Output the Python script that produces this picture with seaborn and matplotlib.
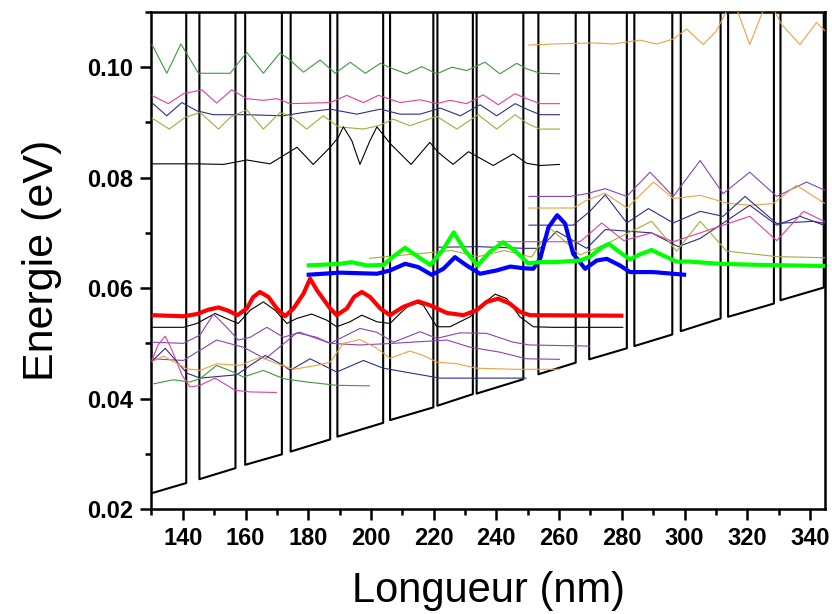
import matplotlib
matplotlib.use("Agg")
import matplotlib.pyplot as plt
import seaborn as sns
from matplotlib.ticker import MultipleLocator, FormatStrFormatter

# conduction band profile: well edges (nm) and well-bottom energies (eV)
well_left = [128.5, 145.3, 159.9, 174.4, 189.3, 206.1, 221.2, 233.7, 253.4, 269.6, 284.0, 298.8, 313.9, 330.6]
well_right = [141.1, 156.8, 171.6, 187.0, 203.9, 219.9, 232.5, 248.6, 265.3, 281.6, 296.1, 311.5, 328.5, 344.4]
bottom_left = [0.0226, 0.0254, 0.0280, 0.0304, 0.0331, 0.0361, 0.0387, 0.0409, 0.0444, 0.0471, 0.0495, 0.0522, 0.0548, 0.0578]
bottom_right = [0.0247, 0.0274, 0.0299, 0.0326, 0.0356, 0.0384, 0.0408, 0.0435, 0.0465, 0.0491, 0.0516, 0.0545, 0.0572, 0.0601]
barrier_top = 0.20

# highlighted states
red_x = [130.1, 140.2, 144.5, 148.2, 151.4, 154.5, 157.4, 160.4, 162.5, 164.6, 167.3, 170.0, 172.6, 175.3, 178.5, 180.6, 182.8, 185.1, 187.0, 189.1, 192.3, 194.6, 197.1, 199.7, 203.0, 206.1, 210.3, 215.1, 218.8, 224.2, 229.5, 233.7, 236.9, 240.6, 244.3, 247.5, 250.7, 280.5]
red_e = [0.0551, 0.0549, 0.0553, 0.0561, 0.0565, 0.0559, 0.0551, 0.0563, 0.0584, 0.0593, 0.0584, 0.0563, 0.0549, 0.0563, 0.0590, 0.0617, 0.0596, 0.0578, 0.0563, 0.0551, 0.0563, 0.0584, 0.0593, 0.0584, 0.0563, 0.0551, 0.0566, 0.0576, 0.0569, 0.0555, 0.0551, 0.0560, 0.0575, 0.0581, 0.0572, 0.0557, 0.0551, 0.0550]

blue_x = [179.5, 190.2, 201.9, 206.1, 210.9, 215.1, 219.4, 223.1, 226.8, 230.5, 234.8, 240.1, 244.4, 248.6, 251.8, 254.0, 256.6, 259.4, 261.9, 264.5, 268.3, 272.0, 275.2, 279.4, 282.6, 290.0, 300.5]
blue_e = [0.0624, 0.0628, 0.0626, 0.0632, 0.0644, 0.0638, 0.0624, 0.0635, 0.0656, 0.0641, 0.0626, 0.0632, 0.0639, 0.0636, 0.0635, 0.0654, 0.0710, 0.0732, 0.0717, 0.0662, 0.0635, 0.0650, 0.0653, 0.0641, 0.0629, 0.0629, 0.0624]

lime_x = [179.5, 190.2, 193.9, 198.7, 204.0, 207.1, 210.9, 214.7, 218.9, 222.8, 226.4, 230.0, 234.0, 238.0, 242.1, 246.3, 250.1, 253.9, 258.7, 266.7, 269.9, 273.4, 275.9, 279.1, 282.6, 285.8, 289.5, 293.2, 297.5, 301.7, 311.3, 324.0, 344.8]
lime_e = [0.0641, 0.0644, 0.0647, 0.0641, 0.0642, 0.0657, 0.0673, 0.0658, 0.0642, 0.0668, 0.0701, 0.0668, 0.0641, 0.0666, 0.0683, 0.0666, 0.0645, 0.0647, 0.0647, 0.0650, 0.0657, 0.0673, 0.0680, 0.0666, 0.0652, 0.0661, 0.0669, 0.0659, 0.0648, 0.0648, 0.0644, 0.0642, 0.0640]

# upper-left group
g1_x = [130.1, 134.9, 139.4, 145.0, 155.1, 160.4, 165.7, 171.0, 174.2, 178.5, 183.8, 188.6, 193.4, 198.2, 203.0, 207.1, 211.4, 216.2, 221.0, 225.8, 230.5, 236.4, 241.1, 246.5, 249.7, 253.9, 260.3]
g1_e = [0.1042, 0.0989, 0.1042, 0.0989, 0.0989, 0.1027, 0.0989, 0.1026, 0.1013, 0.0991, 0.1013, 0.0989, 0.1009, 0.0989, 0.1007, 0.0997, 0.0988, 0.1001, 0.0988, 0.1000, 0.0994, 0.1009, 0.0988, 0.1007, 0.0997, 0.0989, 0.0988]

p1_x = [130.1, 135.4, 140.2, 146.1, 150.8, 155.6, 160.4, 165.7, 170.0, 174.2, 187.0, 192.3, 197.6, 202.4, 209.3, 215.7, 221.0, 225.2, 230.5, 235.8, 240.6, 245.9, 249.7, 253.9, 260.3]
p1_e = [0.0949, 0.0934, 0.0952, 0.0959, 0.0935, 0.0959, 0.0943, 0.0940, 0.0943, 0.0934, 0.0936, 0.0949, 0.0936, 0.0949, 0.0936, 0.0941, 0.0934, 0.0940, 0.0934, 0.0950, 0.0932, 0.0952, 0.0943, 0.0934, 0.0934]

n1_x = [130.1, 134.9, 139.7, 144.5, 149.8, 160.4, 172.1, 178.5, 187.0, 195.5, 203.0, 209.3, 215.7, 222.1, 228.5, 234.8, 240.1, 246.0, 249.7, 253.9, 260.3]
n1_e = [0.0936, 0.0912, 0.0936, 0.0921, 0.0914, 0.0914, 0.0912, 0.0918, 0.0924, 0.0915, 0.0924, 0.0915, 0.0915, 0.0926, 0.0912, 0.0932, 0.0912, 0.0934, 0.0924, 0.0914, 0.0914]

o1_x = [130.1, 135.7, 140.7, 145.5, 151.4, 155.1, 160.4, 165.7, 171.0, 174.2, 179.5, 184.8, 189.6, 197.6, 202.4, 207.1, 212.4, 221.0, 227.4, 234.2, 240.1, 246.0, 250.2, 253.9, 260.3]
o1_e = [0.0908, 0.0888, 0.0909, 0.0918, 0.0888, 0.0909, 0.0923, 0.0888, 0.0918, 0.0912, 0.0888, 0.0912, 0.0892, 0.0888, 0.0894, 0.0906, 0.0894, 0.0911, 0.0888, 0.0914, 0.0888, 0.0914, 0.0897, 0.0888, 0.0888]

k1_x = [130.1, 144.5, 153.0, 160.4, 167.8, 176.4, 181.6, 187.0, 189.6, 191.2, 193.9, 196.5, 199.7, 201.9, 206.1, 212.8, 218.8, 221.4, 226.2, 231.1, 239.0, 245.4, 249.7, 253.9, 260.3]
k1_e = [0.0825, 0.0825, 0.0824, 0.0832, 0.0825, 0.0855, 0.0824, 0.0855, 0.0873, 0.0892, 0.0867, 0.0824, 0.0867, 0.0892, 0.0862, 0.0824, 0.0864, 0.0846, 0.0824, 0.0847, 0.0822, 0.0843, 0.0826, 0.0822, 0.0824]

# top right
or1_x = [250.2, 258.1, 270.9, 277.3, 285.8, 291.1, 296.4, 300.7, 306.0, 310.2, 315.4, 320.8, 326.6, 330.9, 336.8, 342.1, 345.3]
or1_e = [0.1040, 0.1042, 0.1044, 0.1042, 0.1049, 0.1042, 0.1051, 0.1069, 0.1041, 0.1066, 0.1125, 0.1041, 0.1125, 0.1078, 0.1041, 0.1081, 0.1063]

# right group
pu1_x = [250.2, 263.5, 268.8, 274.7, 281.6, 289.0, 296.4, 305.0, 312.3, 320.8, 329.4, 338.9, 344.8]
pu1_e = [0.0766, 0.0766, 0.0771, 0.0780, 0.0766, 0.0810, 0.0766, 0.0831, 0.0771, 0.0810, 0.0766, 0.0792, 0.0777]

or2_x = [250.2, 264.5, 268.8, 274.7, 281.6, 290.1, 296.4, 305.0, 313.4, 320.8, 328.2, 335.7, 344.8]
or2_e = [0.0745, 0.0745, 0.0759, 0.0772, 0.0745, 0.0792, 0.0762, 0.0768, 0.0754, 0.0750, 0.0753, 0.0786, 0.0753]

n2_x = [250.2, 264.5, 269.8, 274.7, 281.6, 288.5, 296.4, 305.0, 312.3, 319.3, 329.4, 341.1, 344.8]
n2_e = [0.0714, 0.0714, 0.0739, 0.0769, 0.0718, 0.0744, 0.0718, 0.0739, 0.0730, 0.0766, 0.0717, 0.0721, 0.0717]

n3_x = [220.9, 234.2, 249.1, 253.9, 259.2, 268.8, 274.7, 289.5, 298.0, 305.0, 320.8, 329.4, 336.8, 344.4]
n3_e = [0.0674, 0.0675, 0.0672, 0.0672, 0.0703, 0.0672, 0.0706, 0.0700, 0.0675, 0.0690, 0.0750, 0.0714, 0.0730, 0.0714]

pk3_x = [240.1, 253.9, 266.7, 273.6, 280.6, 289.5, 296.4, 305.0, 320.8, 329.4, 338.0, 344.8]
pk3_e = [0.0684, 0.0684, 0.0684, 0.0718, 0.0686, 0.0700, 0.0684, 0.0700, 0.0730, 0.0686, 0.0739, 0.0720]

ol3_x = [199.4, 225.8, 234.2, 242.6, 251.2, 257.2, 266.7, 275.0, 289.5, 297.5, 305.0, 313.4, 329.4, 344.8]
ol3_e = [0.0654, 0.0668, 0.0657, 0.0668, 0.0656, 0.0708, 0.0660, 0.0680, 0.0721, 0.0667, 0.0721, 0.0667, 0.0657, 0.0655]

# lower-left group
k3_x = [130.1, 140.2, 144.5, 150.3, 155.1, 157.7, 161.5, 165.7, 169.4, 173.2, 176.3, 181.1, 185.9, 189.1, 193.3, 197.1, 201.9, 206.1, 209.3, 213.5, 216.7, 221.0, 225.2, 231.6, 235.8, 239.6, 243.3, 247.5, 251.8, 258.1, 280.5]
k3_e = [0.0529, 0.0529, 0.0536, 0.0554, 0.0542, 0.0536, 0.0560, 0.0575, 0.0560, 0.0536, 0.0545, 0.0553, 0.0542, 0.0530, 0.0539, 0.0551, 0.0539, 0.0536, 0.0554, 0.0576, 0.0569, 0.0530, 0.0530, 0.0548, 0.0572, 0.0589, 0.0581, 0.0548, 0.0530, 0.0529, 0.0529]

pua_x = [130.1, 140.2, 145.5, 149.8, 154.0, 157.7, 161.5, 166.8, 172.1, 177.4, 181.6, 187.0, 192.3, 196.5, 201.9, 207.2, 215.7, 221.0, 228.4, 236.9, 245.4, 250.7, 269.8]
pua_e = [0.0502, 0.0500, 0.0515, 0.0553, 0.0529, 0.0506, 0.0511, 0.0529, 0.0511, 0.0520, 0.0511, 0.0500, 0.0515, 0.0527, 0.0520, 0.0502, 0.0521, 0.0509, 0.0519, 0.0518, 0.0502, 0.0497, 0.0495]

pub_x = [130.1, 140.2, 150.8, 159.3, 166.3, 176.4, 182.7, 187.0, 196.5, 207.2, 224.2, 231.6, 241.1, 249.6, 260.3]
pub_e = [0.0472, 0.0469, 0.0506, 0.0493, 0.0472, 0.0519, 0.0511, 0.0500, 0.0497, 0.0500, 0.0506, 0.0493, 0.0484, 0.0472, 0.0471]

pk2_x = [130.1, 132.1, 134.4, 136.6, 139.8, 142.3, 145.5, 150.3, 156.7, 161.5, 170.0]
pk2_e = [0.0468, 0.0497, 0.0513, 0.0487, 0.0442, 0.0421, 0.0424, 0.0437, 0.0415, 0.0412, 0.0411]

n2l_x = [130.1, 134.4, 141.3, 145.5, 157.2, 161.5, 166.3, 172.1, 174.2, 180.6, 189.1, 197.6, 203.9, 222.0, 249.6]
n2l_e = [0.0467, 0.0491, 0.0446, 0.0437, 0.0443, 0.0460, 0.0478, 0.0460, 0.0451, 0.0472, 0.0448, 0.0469, 0.0455, 0.0437, 0.0437]

or3_x = [130.1, 133.8, 141.3, 145.5, 150.8, 158.3, 164.7, 172.1, 175.3, 182.7, 187.0, 191.2, 196.5, 201.9, 206.1, 212.4, 216.7, 221.0, 227.4, 233.7, 245.4, 260.3]
or3_e = [0.0466, 0.0477, 0.0454, 0.0451, 0.0463, 0.0460, 0.0475, 0.0459, 0.0453, 0.0460, 0.0466, 0.0500, 0.0507, 0.0491, 0.0473, 0.0486, 0.0478, 0.0466, 0.0463, 0.0455, 0.0453, 0.0453]

g2_x = [130.1, 137.0, 142.3, 145.5, 150.8, 156.1, 159.3, 165.7, 172.1, 179.5, 189.1, 199.7]
g2_e = [0.0426, 0.0434, 0.0430, 0.0436, 0.0460, 0.0448, 0.0439, 0.0451, 0.0436, 0.0430, 0.0424, 0.0423]

C_GREEN = "#3d9a3d"
C_PINK = "#e0409c"
C_NAVY = "#2e2e8c"
C_OLIVE = "#a9a93a"
C_ORANGE = "#f0a040"
C_PURPLE = "#8a44b4"


def trace(ax, xs, es, colour, lw=0.8, z=3):
    sns.lineplot(x=xs, y=es, sort=False, estimator=None, color=colour,
                 lw=lw, ax=ax, legend=False, zorder=z,
                 solid_joinstyle="round", solid_capstyle="butt")


sns.set_theme(style="ticks")
plt.rcParams["font.family"] = ["Liberation Sans", "DejaVu Sans"]
plt.rcParams["font.weight"] = "bold"

fig = plt.figure(figsize=(8.32, 6.14), dpi=100)
ax = fig.add_axes([0.182, 0.171, 0.8096, 0.8095])

pot_x, pot_e = [], []
for xl, xr, bl, br in zip(well_left, well_right, bottom_left, bottom_right):
    pot_x += [xl, xl, xr, xr]
    pot_e += [barrier_top, bl, br, barrier_top]
trace(ax, pot_x, pot_e, "black", lw=1.5, z=2)

thin = [
    (g1_x, g1_e, C_GREEN), (p1_x, p1_e, C_PINK), (n1_x, n1_e, C_NAVY),
    (o1_x, o1_e, C_OLIVE), (k1_x, k1_e, "black"), (or1_x, or1_e, C_ORANGE),
    (pu1_x, pu1_e, C_PURPLE), (or2_x, or2_e, C_ORANGE), (n2_x, n2_e, C_NAVY),
    (n3_x, n3_e, C_NAVY), (pk3_x, pk3_e, C_PINK), (ol3_x, ol3_e, C_OLIVE),
    (k3_x, k3_e, "black"), (pua_x, pua_e, C_PURPLE), (pub_x, pub_e, C_PURPLE),
    (pk2_x, pk2_e, C_PINK), (n2l_x, n2l_e, C_NAVY), (or3_x, or3_e, C_ORANGE),
    (g2_x, g2_e, C_GREEN),
]
for xs, es, c in thin:
    trace(ax, xs, es, c, lw=0.8)

trace(ax, red_x, red_e, "#ff0000", lw=3.0, z=5)
trace(ax, blue_x, blue_e, "#0000ff", lw=3.0, z=5)
trace(ax, lime_x, lime_e, "#00ff00", lw=3.0, z=5)

ax.set_xlim(130, 344.8)
ax.set_ylim(0.02, 0.110)
ax.xaxis.set_major_locator(MultipleLocator(20))
ax.xaxis.set_minor_locator(MultipleLocator(10))
ax.yaxis.set_major_locator(MultipleLocator(0.02))
ax.yaxis.set_minor_locator(MultipleLocator(0.01))
ax.yaxis.set_major_formatter(FormatStrFormatter("%.2f"))
ax.tick_params(which="both", direction="out", top=False, right=False, width=1.8, colors="black")
ax.tick_params(which="major", length=8, labelsize=17, pad=5)
ax.tick_params(which="minor", length=4)
for s in ax.spines.values():
    s.set_linewidth(1.8)
    s.set_color("black")
    s.set_visible(True)

ax.set_xlabel("Longueur (nm)", fontsize=30, fontweight="normal", color="black", labelpad=15)
ax.set_ylabel("Energie (eV)", fontsize=31, fontweight="normal", color="black", labelpad=18)

fig.savefig("out.png", dpi=100)
